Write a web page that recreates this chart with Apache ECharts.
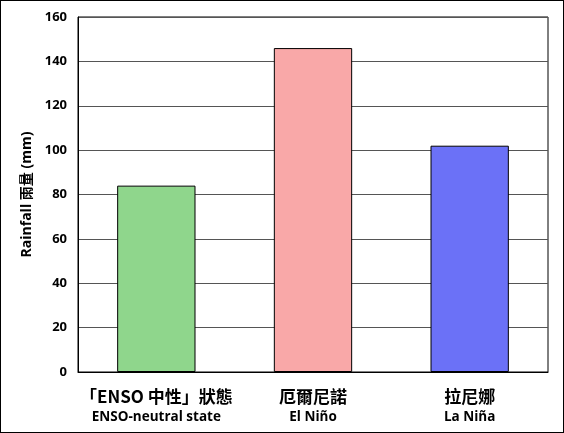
<!DOCTYPE html>
<html>
<head>
<meta charset="utf-8">
<script src="https://cdn.jsdelivr.net/npm/echarts@6.0.0/dist/echarts.min.js"></script>
<style>
  html, body { margin: 0; padding: 0; background: #fff; }
  #chart { width: 562px; height: 431px; border: 1px solid #000; }
</style>
</head>
<body>
<div id="chart"></div>
<script>
// 數據
const catZh = ['「ENSO 中性」狀態', '厄爾尼諾', '拉尼娜'];
const catEn = ['ENSO-neutral state', 'El Niño', 'La Niña'];
const rainfall = [84, 146, 102];
const barColors = ['#8fd68c', '#f9a8a8', '#6b71f7'];
const yTicks = [0, 20, 40, 60, 80, 100, 120, 140, 160];

const chart = echarts.init(document.getElementById('chart'));

chart.setOption({
  animation: false,
  grid: {
    left: 77, right: 15, top: 16, bottom: 60,
    show: true, borderColor: '#000', borderWidth: 1
  },
  xAxis: {
    type: 'category',
    data: catZh.map((z, i) => z + '\n' + catEn[i]),
    axisLine: { lineStyle: { color: '#000', width: 1 } },
    axisTick: { show: false },
    axisLabel: {
      interval: 0,
      margin: 13,
      formatter: function (v) {
        const p = v.split('\n');
        return '{a|' + p[0] + '}\n{b|' + p[1] + '}';
      },
      rich: {
        a: { fontFamily: 'Noto Sans CJK TC', fontWeight: 'bold', fontSize: 17, color: '#000', lineHeight: 24 },
        b: { fontFamily: 'Open Sans', fontWeight: 'bold', fontSize: 13.5, color: '#000', lineHeight: 17 }
      }
    }
  },
  yAxis: {
    type: 'value',
    min: yTicks[0],
    max: yTicks[yTicks.length - 1],
    interval: 20,
    name: 'Rainfall 雨量 (mm)',
    nameLocation: 'middle',
    nameGap: 40,
    nameTextStyle: { fontFamily: 'Open Sans, Noto Sans CJK TC', fontWeight: 'bold', fontSize: 14, color: '#000' },
    axisLine: { show: true, lineStyle: { color: '#000', width: 1 } },
    axisTick: { show: false },
    axisLabel: { margin: 11, fontFamily: 'Open Sans', fontWeight: 'bold', fontSize: 13, color: '#000' },
    splitLine: { lineStyle: { color: '#555', width: 1 } }
  },
  series: [{
    type: 'bar',
    barWidth: '50%',
    data: rainfall.map((v, i) => ({
      value: v,
      itemStyle: { color: barColors[i], borderColor: '#000', borderWidth: 1 }
    }))
  }]
});
</script>
</body>
</html>
